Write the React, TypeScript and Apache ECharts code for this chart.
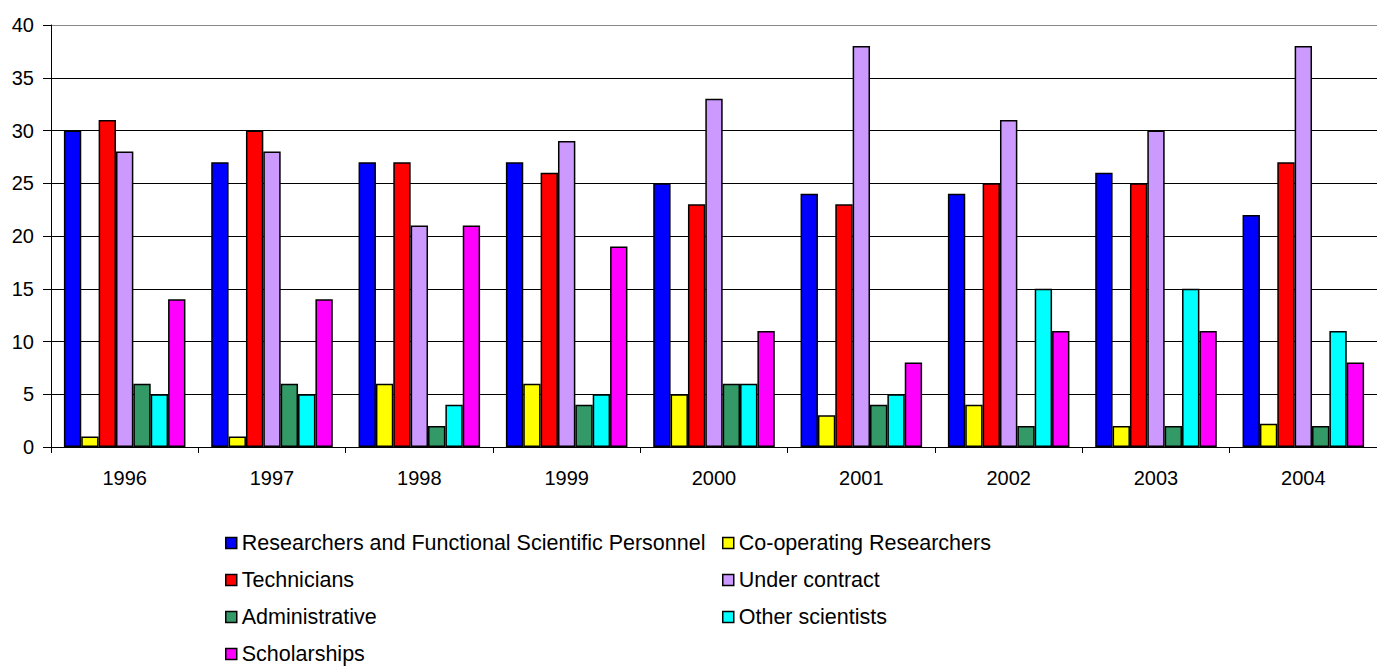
import React, { useEffect, useRef } from "react";
import * as echarts from "echarts";

const years = ["1996", "1997", "1998", "1999", "2000", "2001", "2002", "2003", "2004"];
const researchers = [30, 27, 27, 27, 25, 24, 24, 26, 22];
const coopResearchers = [1, 1, 6, 6, 5, 3, 4, 2, 2.2];
const technicians = [31, 30, 27, 26, 23, 23, 25, 25, 27];
const underContract = [28, 28, 21, 29, 33, 38, 31, 30, 38];
const administrative = [6, 6, 2, 4, 6, 4, 2, 2, 2];
const otherScientists = [5, 5, 4, 5, 6, 5, 15, 15, 11];
const scholarships = [14, 14, 21, 19, 11, 8, 11, 11, 8];

const seriesNames = [
  "Researchers and Functional Scientific Personnel",
  "Co-operating Researchers",
  "Technicians",
  "Under contract",
  "Administrative",
  "Other scientists",
  "Scholarships",
];
const seriesData = [researchers, coopResearchers, technicians, underContract, administrative, otherScientists, scholarships];
const seriesColors = ["#0000FF", "#FFFF00", "#FF0000", "#CC99FF", "#339966", "#00FFFF", "#FF00FF"];

const FONT = "'Liberation Sans', Arial, sans-serif";

export default function App() {
  const ref = useRef<HTMLDivElement>(null);
  useEffect(() => {
    if (!ref.current) return;
    const chart = echarts.init(ref.current, undefined, { renderer: "svg" });
    const legendText = {
      color: "#000",
      fontFamily: FONT,
      fontSize: 21.5,
      lineHeight: 22,
      padding: [0, 0, 0, 0],
    };
    const legendBase = {
      orient: "vertical",
      top: 532,
      padding: 0,
      itemWidth: 11,
      itemHeight: 11,
      itemGap: 15,
      icon: "rect",
      itemStyle: { borderColor: "#000", borderWidth: 1.5 },
      textStyle: legendText,
    };
    chart.setOption({
      animation: false,
      backgroundColor: "#fff",
      textStyle: { fontFamily: FONT },
      grid: { left: 51, top: 25, width: 1332, height: 422, containLabel: false },
      xAxis: {
        type: "category",
        data: years,
        axisLine: { lineStyle: { color: "#000", width: 1 } },
        axisTick: { show: true, length: 6, lineStyle: { color: "#000" } },
        axisLabel: { color: "#000", fontSize: 20, fontFamily: FONT, margin: 21 },
      },
      yAxis: {
        type: "value",
        min: 0,
        max: 40,
        interval: 5,
        axisLine: { show: true, lineStyle: { color: "#000", width: 1 } },
        axisTick: { show: true, length: 8, lineStyle: { color: "#000" } },
        axisLabel: { color: "#000", fontSize: 20, fontFamily: FONT, margin: 17 },
        splitLine: {
          show: true,
          lineStyle: {
            color: ["#000", "#000", "#000", "#000", "#000", "#000", "#000", "#000", "#888"],
            width: 1,
          },
        },
      },
      legend: [
        {
          ...legendBase,
          left: 225,
          data: [seriesNames[0], seriesNames[2], seriesNames[4], seriesNames[6]],
        },
        {
          ...legendBase,
          left: 722,
          data: [seriesNames[1], seriesNames[3], seriesNames[5]],
        },
      ],
      series: seriesNames.map((name, i) => ({
        name,
        type: "bar",
        data: seriesData[i],
        barGap: "0%",
        barCategoryGap: "17.5%",
        itemStyle: { color: seriesColors[i], borderColor: "#000", borderWidth: 1.5 },
      })),
    });
    return () => chart.dispose();
  }, []);
  return <div ref={ref} style={{ position: "fixed", left: 0, top: 0, width: 1377, height: 666 }} />;
}
